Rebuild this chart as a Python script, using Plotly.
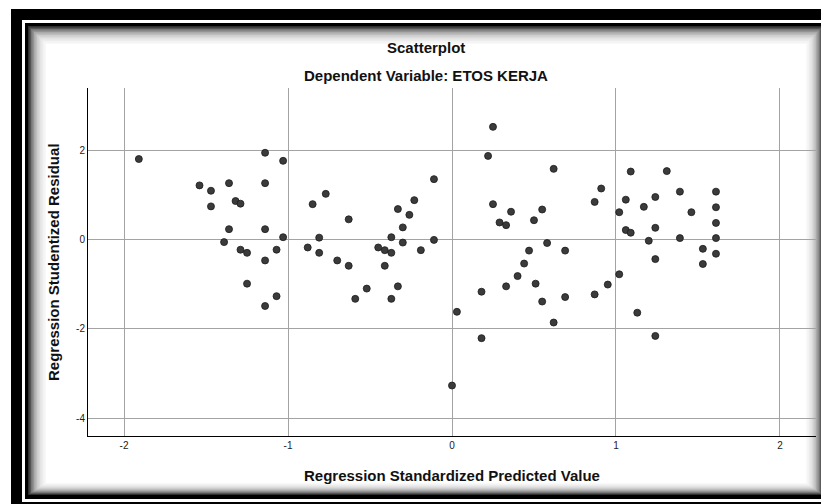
import plotly.graph_objects as go

# ---- data ----
predicted = [
    -1.91, -1.14, -1.03, -1.54, -1.47, -1.36, -1.14, -1.47, -1.32, -1.29,
    -1.36, -1.14, -1.03, -1.39, -1.29, -1.25, -1.07, -1.14, -1.25, -1.07, -1.14,
    -0.11, -0.77, -0.85, -0.23, -0.33, -0.26, -0.63, -0.30, -0.81, -0.37,
    -0.30, -0.11, -0.88, -0.81, -0.45, -0.41, -0.37, -0.19, -0.70, -0.63,
    -0.41, -0.52, -0.33, -0.59, -0.37, 0.03,
    0.00,
    0.25, 0.22, 0.62, 0.87, 0.25, 0.36, 0.55, 0.29, 0.33, 0.50,
    0.58, 0.47, 0.69, 0.44, 0.40, 0.33, 0.51,
    0.18, 0.87, 0.55, 0.69, 0.62, 0.18,
    1.09, 1.31, 0.91, 1.06, 1.24, 1.39, 1.61, 1.02, 1.17, 1.46,
    1.61, 1.61, 1.06, 1.09, 1.24, 1.20, 1.39, 1.61, 1.53, 1.61,
    1.53, 1.24, 1.02, 0.95, 1.13, 1.24,
]
residual = [
    1.80, 1.94, 1.76, 1.21, 1.09, 1.26, 1.26, 0.74, 0.86, 0.80,
    0.23, 0.23, 0.05, -0.06, -0.23, -0.30, -0.23, -0.47, -0.99, -1.27, -1.49,
    1.35, 1.02, 0.79, 0.88, 0.68, 0.55, 0.45, 0.27, 0.04, 0.05,
    -0.07, -0.01, -0.18, -0.30, -0.18, -0.24, -0.30, -0.24, -0.47, -0.59,
    -0.59, -1.10, -1.05, -1.33, -1.33, -1.62,
    -3.27,
    2.52, 1.87, 1.58, 0.84, 0.79, 0.62, 0.67, 0.38, 0.32, 0.43,
    -0.08, -0.25, -0.25, -0.54, -0.82, -1.05, -0.99,
    -1.17, -1.23, -1.39, -1.29, -1.86, -2.21,
    1.52, 1.53, 1.14, 0.89, 0.95, 1.07, 1.07, 0.61, 0.73, 0.61,
    0.72, 0.37, 0.21, 0.15, 0.26, -0.03, 0.03, 0.03, -0.21, -0.32,
    -0.55, -0.44, -0.78, -1.01, -1.64, -2.16,
]
x_ticks = [-2, -1, 0, 1, 2]
x_tick_labels = ["-2", "-1", "0", "1", "2"]
y_ticks = [-4, -2, 0, 2]
y_tick_labels = ["-4", "-2", "0", "2"]

title_text = "Scatterplot"
subtitle_text = "Dependent Variable: ETOS KERJA"
x_title = "Regression Standardized Predicted Value"
y_title = "Regression Studentized Residual"

# ---- layout geometry (window pixels); page body has an 8px margin ----
OFF = 8
WIN_W, WIN_H = 829, 504
W, H = WIN_W - OFF, WIN_H - OFF
L, R, T, B = 88, 816, 88, 436  # plot area in window pixels
PW, PH = R - L, B - T


def px(x):
    return (x - L) / PW


def py(y):
    return (B - y) / PH


FONT = "Liberation Sans, Arial, sans-serif"

fig = go.Figure()
fig.add_trace(go.Scatter(
    x=predicted, y=residual, mode="markers",
    marker=dict(size=7, color="#3b3b3b", line=dict(color="#1a1a1a", width=0.8)),
    hoverinfo="x+y", showlegend=False,
))

shapes = []


def rect(x0, y0, x1, y1, color):
    shapes.append(dict(type="rect", xref="paper", yref="paper",
                       x0=px(x0), x1=px(x1), y0=py(y1), y1=py(y0),
                       fillcolor=color, line=dict(width=0), layer="below"))


# frame: thick outer black, white gap, inner black line, inset shadow
rect(11, 9, 830, 505, "#000000")
rect(22, 20, 828, 502, "#ffffff")
rect(25, 23, 827, 499, "#000000")
shadow = ["#2e2e2e", "#555555", "#777777", "#939393", "#aaaaaa", "#bdbdbd",
          "#cdcdcd", "#dadada", "#e4e4e4", "#ececec", "#f3f3f3", "#f8f8f8"]
x0, y0, x1, y1 = 28, 26, 823, 495
for i, c in enumerate(shadow):
    rect(x0 + 1.5 * i, y0 + 1.5 * i, x1 - 1.4 * i, y1 - 1.0 * i, c)
n = len(shadow)
rect(x0 + 1.5 * n, y0 + 1.5 * n, x1 - 1.4 * n, y1 - 1.0 * n, "#ffffff")

tfont = dict(family=FONT, size=15, color="#111")
annotations = [
    dict(text="<b>%s</b>" % title_text, xref="paper", yref="paper",
         x=px(426), y=py(48), xanchor="center", yanchor="middle",
         showarrow=False, font=tfont),
    dict(text="<b>%s</b>" % subtitle_text, xref="paper", yref="paper",
         x=px(426), y=py(76), xanchor="center", yanchor="middle",
         showarrow=False, font=tfont),
    dict(text="<b>%s</b>" % x_title, xref="paper", yref="paper",
         x=px(452), y=py(475), xanchor="center", yanchor="middle",
         showarrow=False, font=tfont),
    dict(text="<b>%s</b>" % y_title, xref="paper", yref="paper",
         x=px(53), y=py(262), xanchor="center", yanchor="middle",
         textangle=-90, showarrow=False, font=tfont),
]

fig.update_layout(
    width=W, height=H, autosize=False,
    margin=dict(l=L - OFF, r=WIN_W - R, t=T - OFF, b=WIN_H - B, pad=0),
    paper_bgcolor="#ffffff", plot_bgcolor="rgba(0,0,0,0)",
    shapes=shapes, annotations=annotations,
    font=dict(family=FONT),
    xaxis=dict(range=[-2.22, 2.22], tickvals=x_ticks, ticktext=x_tick_labels,
               showgrid=True, gridcolor="#a3a3a3", gridwidth=1,
               zeroline=False, showline=True, linecolor="#000", linewidth=1,
               ticks="", tickfont=dict(size=10, color="#222", family=FONT),
               automargin=False, fixedrange=True),
    yaxis=dict(range=[-4.4, 3.39], tickvals=y_ticks, ticktext=y_tick_labels,
               showgrid=True, gridcolor="#a3a3a3", gridwidth=1,
               zeroline=False, showline=True, linecolor="#000", linewidth=1,
               ticks="", tickfont=dict(size=10, color="#222", family=FONT),
               automargin=False, fixedrange=True),
)

fig.write_html("out.html", config={"displayModeBar": False})
